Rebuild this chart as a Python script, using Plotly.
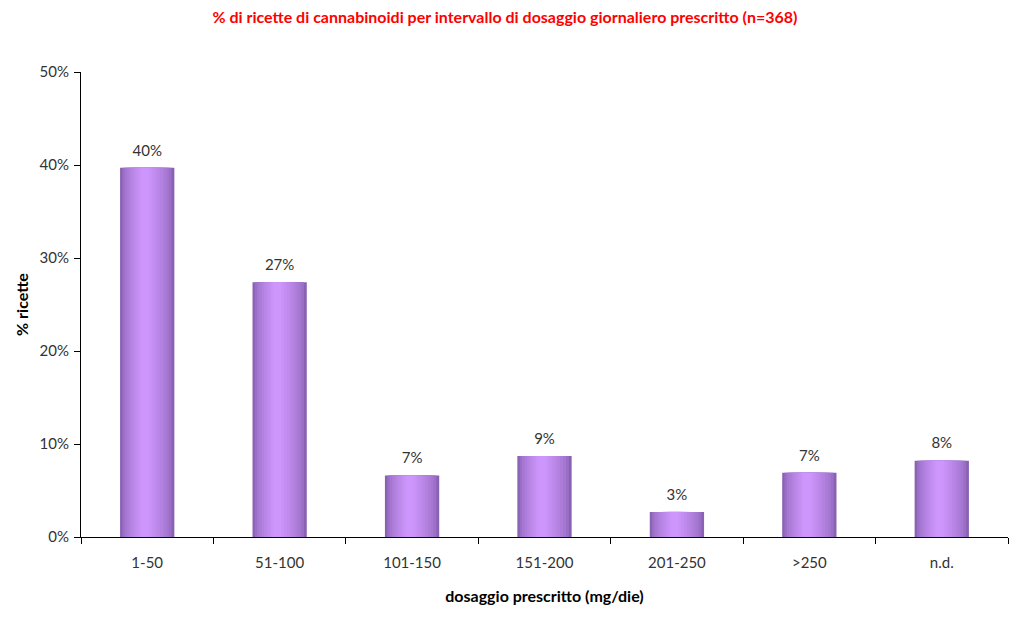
import plotly.graph_objects as go

categories = ["1-50", "51-100", "101-150", "151-200", "201-250", ">250", "n.d."]
values = [39.7, 27.4, 6.6, 8.7, 2.7, 6.9, 8.2]
labels = ["40%", "27%", "7%", "9%", "3%", "7%", "8%"]

title = "% di ricette di cannabinoidi per intervallo di dosaggio giornaliero prescritto (n=368)"
font_family = "Lato, 'Open Sans', sans-serif"

fig = go.Figure()

# gradient simulation: overlaid bars of decreasing width, dark edges to light centre
dark = (138, 98, 180)
light = (205, 150, 252)
n_layers = 10
full_w = 0.41
for i in range(n_layers):
    t = i / (n_layers - 1)
    t2 = t ** 0.6
    c = tuple(int(dark[k] + (light[k] - dark[k]) * t2) for k in range(3))
    w = full_w * (1 - 0.85 * t)
    fig.add_trace(go.Bar(
        x=categories, y=values, width=w,
        offset=-full_w / 2 + (full_w - w) * 0.45,
        marker=dict(color=f"rgb{c}", line=dict(width=0)),
        showlegend=False,
        hoverinfo="skip" if i else None,
    ))

# data labels placed above bars
fig.add_trace(go.Scatter(
    x=categories, y=values, mode="markers+text", text=labels,
    textposition="top center",
    marker=dict(size=12, opacity=0),
    textfont=dict(family=font_family, size=15, color="#333333"),
    cliponaxis=False, showlegend=False, hoverinfo="skip",
))

fig.update_layout(
    barmode="overlay",
    width=1008, height=601,
    margin=dict(l=73, r=8, t=64, b=72),
    paper_bgcolor="white", plot_bgcolor="white",
    font=dict(family=font_family, size=15, color="#333333"),
    title=dict(text=f"<b>{title}</b>", x=0.493, xanchor="center", y=0.985, yanchor="middle",
               font=dict(family=font_family, size=16, color="#ff0000")),
)
fig.update_xaxes(
    type="category", showline=True, linecolor="black", linewidth=1,
    ticks="outside", tickson="boundaries", ticklen=6, tickcolor="black",
    ticklabelstandoff=12,
    showgrid=False, tickfont=dict(size=15, color="#333333"),
    title=dict(text="<b>dosaggio prescritto (mg/die)</b>", font=dict(size=16, color="black"), standoff=20),
)
fig.update_yaxes(
    range=[0, 50], dtick=10, ticksuffix="%", showline=True, linecolor="black", linewidth=1,
    ticks="outside", ticklen=6, tickcolor="black", showgrid=False, zeroline=False,
    ticklabelstandoff=2,
    tickfont=dict(size=15, color="#333333"),
    title=dict(text="<b>% ricette</b>", font=dict(size=16, color="black"), standoff=6),
)

fig.write_html("out.html")
